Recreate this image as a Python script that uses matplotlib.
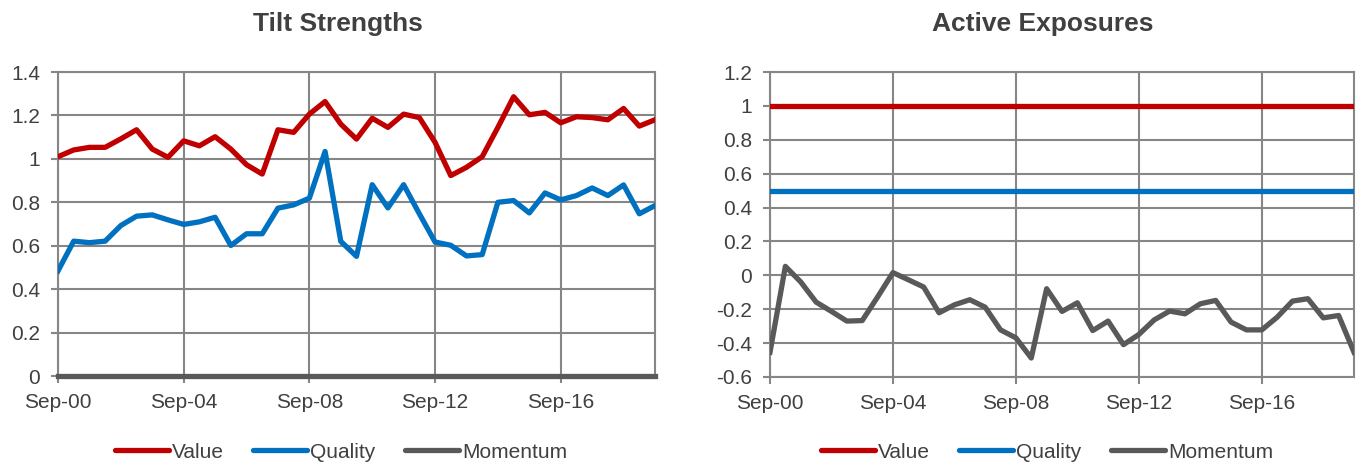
import matplotlib
matplotlib.use("Agg")
import matplotlib.pyplot as plt
from matplotlib.lines import Line2D
import numpy as np

plt.rcParams['font.family'] = ['Liberation Sans', 'DejaVu Sans']

# Semi-annual categories Sep-00 .. Sep-19
years = list(range(0, 20))
categories = []
for y in years:
    categories.append(f"Sep-{y:02d}")
    if y < 19:
        categories.append(f"Mar-{y+1:02d}")

tick_labels = ["Sep-00", "Sep-04", "Sep-08", "Sep-12", "Sep-16"]
series_names = ["Value", "Quality", "Momentum"]

# Tilt Strengths
tilt_value = [1.010, 1.041, 1.053, 1.053, 1.092, 1.134, 1.045, 1.007, 1.083, 1.060,
              1.102, 1.045, 0.973, 0.930, 1.134, 1.122, 1.206, 1.264, 1.160, 1.091,
              1.187, 1.145, 1.206, 1.190, 1.076, 0.923, 0.961, 1.010, 1.145, 1.286,
              1.203, 1.214, 1.166, 1.194, 1.190, 1.180, 1.232, 1.151, 1.180]
tilt_quality = [0.484, 0.621, 0.614, 0.621, 0.693, 0.736, 0.742, 0.719, 0.698, 0.710,
                0.731, 0.601, 0.655, 0.655, 0.773, 0.788, 0.819, 1.034, 0.620, 0.551,
                0.881, 0.774, 0.881, 0.747, 0.617, 0.602, 0.553, 0.559, 0.800, 0.808,
                0.751, 0.843, 0.811, 0.831, 0.866, 0.831, 0.880, 0.747, 0.785]
tilt_momentum = [0.0] * 39

# Active Exposures
exp_value = [1.0] * 39
exp_quality = [0.5] * 39
exp_momentum = [-0.454, 0.053, -0.039, -0.158, -0.213, -0.270, -0.267, -0.128, 0.016, -0.026,
                -0.069, -0.221, -0.174, -0.144, -0.188, -0.322, -0.369, -0.488, -0.079, -0.213,
                -0.162, -0.326, -0.270, -0.409, -0.349, -0.263, -0.211, -0.227, -0.168, -0.148,
                -0.276, -0.322, -0.322, -0.247, -0.152, -0.138, -0.251, -0.237, -0.454]

RED = '#C00000'
BLUE = '#0070C0'
GRAY = '#595959'
GRID = '#868686'
TXT = '#404040'
COLORS = [RED, BLUE, GRAY]

W, H = 1358, 463
fig = plt.figure(figsize=(W / 100, H / 100), dpi=100)

def px_axes(l, r, t, b):
    return fig.add_axes([l / W, (H - b) / H, (r - l) / W, (b - t) / H])

ax1 = px_axes(58, 655, 72, 376)
ax2 = px_axes(770, 1354, 72, 377)

x = np.arange(len(categories))
tick_pos = [categories.index(t) for t in tick_labels]

def style(ax, yticks, ylabels, ylim):
    ax.set_xlim(0, len(categories) - 1)
    ax.set_ylim(*ylim)
    ax.set_yticks(yticks)
    ax.set_yticklabels(ylabels)
    ax.set_xticks(tick_pos)
    ax.set_xticklabels(tick_labels)
    ax.grid(True, color=GRID, linewidth=1.5, zorder=0)
    ax.set_axisbelow(True)
    for s in ax.spines.values():
        s.set_color(GRID)
        s.set_linewidth(1.5)
    ax.tick_params(axis='both', colors=GRID, length=5, width=1.5, labelsize=15,
                   labelcolor=TXT)
    ax.tick_params(axis='y', pad=8)
    ax.tick_params(axis='x', pad=7)

lw = 3.8
for vals, c, n in zip([tilt_value, tilt_quality, tilt_momentum], COLORS, series_names):
    ax1.plot(x, vals, color=c, lw=lw, label=n, solid_joinstyle='round',
             zorder=4 if n == 'Momentum' else 3, clip_on=(n != 'Momentum'))
style(ax1, np.arange(0, 1.41, 0.2), ['0', '0.2', '0.4', '0.6', '0.8', '1', '1.2', '1.4'], (0, 1.4))

for vals, c, n in zip([exp_value, exp_quality, exp_momentum], COLORS, series_names):
    ax2.plot(x, vals, color=c, lw=lw, label=n, solid_joinstyle='round', zorder=3)
style(ax2, np.arange(-0.6, 1.21, 0.2),
      ['-0.6', '-0.4', '-0.2', '0', '0.2', '0.4', '0.6', '0.8', '1', '1.2'], (-0.6, 1.2))

fig.text(338 / W, (H - 24) / H, 'Tilt Strengths', ha='center', va='center',
         fontsize=19, fontweight='bold', color=TXT)
fig.text(1043 / W, (H - 24) / H, 'Active Exposures', ha='center', va='center',
         fontsize=19, fontweight='bold', color=TXT)

handles = [Line2D([0], [0], color=c, lw=lw, solid_capstyle='round') for c in COLORS]
for cx in (341, 1047):
    fig.legend(handles, series_names, loc='center', bbox_to_anchor=(cx / W, 11 / H), ncol=3,
               frameon=False, fontsize=15, handlelength=2.6, handletextpad=0.15,
               columnspacing=1.4, labelcolor=TXT, borderpad=0)

fig.savefig('out.png', dpi=100)
